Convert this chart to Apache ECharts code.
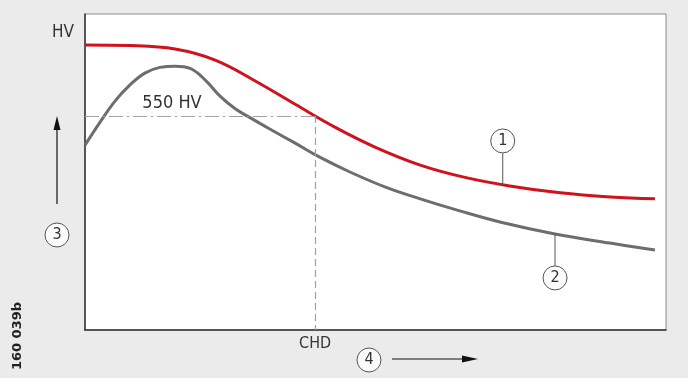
<!DOCTYPE html>
<html><head><meta charset="utf-8">
<script src="https://cdn.jsdelivr.net/npm/echarts@6/dist/echarts.min.js"></script>
<style>html,body{margin:0;padding:0;background:#ebebeb}#c{width:688px;height:378px}</style>
</head><body><div id="c"></div>
<script>
// Curve 1 (red)
const redX = [0.0, 7.7, 15.5, 22.4, 29.3, 36.1, 43.0, 49.9, 57.7, 65.4, 73.1, 81.8, 90.4, 98.1];
const redY = [90.2, 90.0, 88.9, 85.4, 78.8, 71.5, 64.2, 57.9, 52.2, 48.3, 45.6, 43.4, 42.1, 41.5];
// Curve 2 (grey)
const greyX = [0.0, 2.6, 5.2, 7.7, 10.3, 12.9, 15.5, 18.1, 20.7, 23.2, 25.8, 28.4, 31.8, 36.1, 40.4, 45.6, 51.6, 57.7, 64.5, 71.4, 80.9, 90.4, 98.1];
const greyY = [58.5, 65.8, 72.5, 77.5, 81.3, 83.1, 83.5, 82.8, 79.1, 74.1, 70.1, 67.2, 63.6, 59.2, 54.7, 50.0, 45.3, 41.5, 37.7, 34.2, 30.4, 27.5, 25.3];
// Reference levels
const hvLevel = 67.7;     // 550 HV
const chdX = 39.6;        // case hardening depth
const hvLabel = '550 HV';
const chdLabel = 'CHD';
const label1X = 71.9, label1Y = 45.9;
const label2X = 80.9, label2Y = 30.4;

const zip = (xs, ys) => xs.map((x, i) => [x, ys[i]]);
const FONT = "'Liberation Sans Narrow', 'DejaVu Sans Condensed', 'Liberation Sans', sans-serif";

const chart = echarts.init(document.getElementById('c'));
chart.setOption({
  backgroundColor: '#ebebeb',
  animation: false,
  grid: { left: 85, right: 22, top: 14, bottom: 48, show: true, backgroundColor: '#ffffff', borderColor: '#8a8a8a', borderWidth: 1 },
  xAxis: { type: 'value', min: 0, max: 100, axisLine: { show: true, lineStyle: { color: '#333', width: 1.5 } }, axisTick: { show: false }, axisLabel: { show: false }, splitLine: { show: false } },
  yAxis: { type: 'value', min: 0, max: 100, axisLine: { show: true, lineStyle: { color: '#333', width: 1.5 } }, axisTick: { show: false }, axisLabel: { show: false }, splitLine: { show: false } },
  series: [
    {
      type: 'line', data: zip(greyX, greyY), smooth: 0.4, showSymbol: false, z: 3,
      lineStyle: { color: '#6d6d6d', width: 3 },
      markLine: {
        silent: true, symbol: 'none', animation: false,
        label: { show: false },
        data: [
          [{ coord: [0, hvLevel], lineStyle: { type: [14, 4, 2, 4], color: '#a0a0a0', width: 1.2 } }, { coord: [chdX, hvLevel] }],
          [{ coord: [chdX, hvLevel], lineStyle: { type: [7, 4], color: '#a0a0a0', width: 1.2 } }, { coord: [chdX, 0] }]
        ]
      }
    },
    {
      type: 'line', data: zip(redX, redY), smooth: 0.4, showSymbol: false, z: 4,
      lineStyle: { color: '#d0121c', width: 3 }
    }
  ]
});

const px = (x, y) => chart.convertToPixel({ gridIndex: 0 }, [x, y]);
const circle = (cx, cy, txt) => [
  { type: 'circle', shape: { cx, cy, r: 12 }, style: { fill: '#fbfbfb', stroke: '#555', lineWidth: 1 }, z: 10 },
  { type: 'text', x: cx, y: cy, style: { text: txt, font: '16px ' + FONT, fill: '#333', align: 'center', verticalAlign: 'middle' }, z: 11 }
];
const p1 = px(label1X, label1Y), p2 = px(label2X, label2Y);
const pHv = px(0, hvLevel), pChd = px(chdX, 0);
const g = [];
g.push({ type: 'line', shape: { x1: p1[0], y1: p1[1] - 32, x2: p1[0], y2: p1[1] }, style: { stroke: '#555', lineWidth: 1 }, z: 9 });
g.push(...circle(p1[0], p1[1] - 44, '1'));
g.push({ type: 'line', shape: { x1: p2[0], y1: p2[1], x2: p2[0], y2: p2[1] + 32 }, style: { stroke: '#555', lineWidth: 1 }, z: 9 });
g.push(...circle(p2[0], p2[1] + 44, '2'));
g.push({ type: 'text', x: 63, y: 33, style: { text: 'HV', font: '17px ' + FONT, fill: '#333', align: 'center', verticalAlign: 'middle' } });
g.push({ type: 'text', x: 172, y: pHv[1] - 13, style: { text: hvLabel, font: '18px ' + FONT, fill: '#333', align: 'center', verticalAlign: 'middle' }, z: 8 });
g.push({ type: 'text', x: pChd[0], y: pChd[1] + 14, style: { text: chdLabel, font: '16px ' + FONT, fill: '#333', align: 'center', verticalAlign: 'middle' } });
g.push({ type: 'line', shape: { x1: 57, y1: 204, x2: 57, y2: 126 }, style: { stroke: '#111', lineWidth: 1.2 } });
g.push({ type: 'polygon', shape: { points: [[57, 116], [53.5, 130], [60.5, 130]] }, style: { fill: '#111' } });
g.push(...circle(57, 235, '3'));
g.push(...circle(369, 360, '4'));
g.push({ type: 'line', shape: { x1: 392, y1: 359, x2: 466, y2: 359 }, style: { stroke: '#111', lineWidth: 1.2 } });
g.push({ type: 'polygon', shape: { points: [[478, 359], [462, 355.5], [462, 362.5]] }, style: { fill: '#111' } });
g.push({ type: 'text', x: 18, y: 336, rotation: Math.PI / 2, style: { text: '160 039b', font: 'bold 13px DejaVu Sans', fill: '#222', align: 'center', verticalAlign: 'middle' } });
chart.setOption({ graphic: g });
</script></body></html>
